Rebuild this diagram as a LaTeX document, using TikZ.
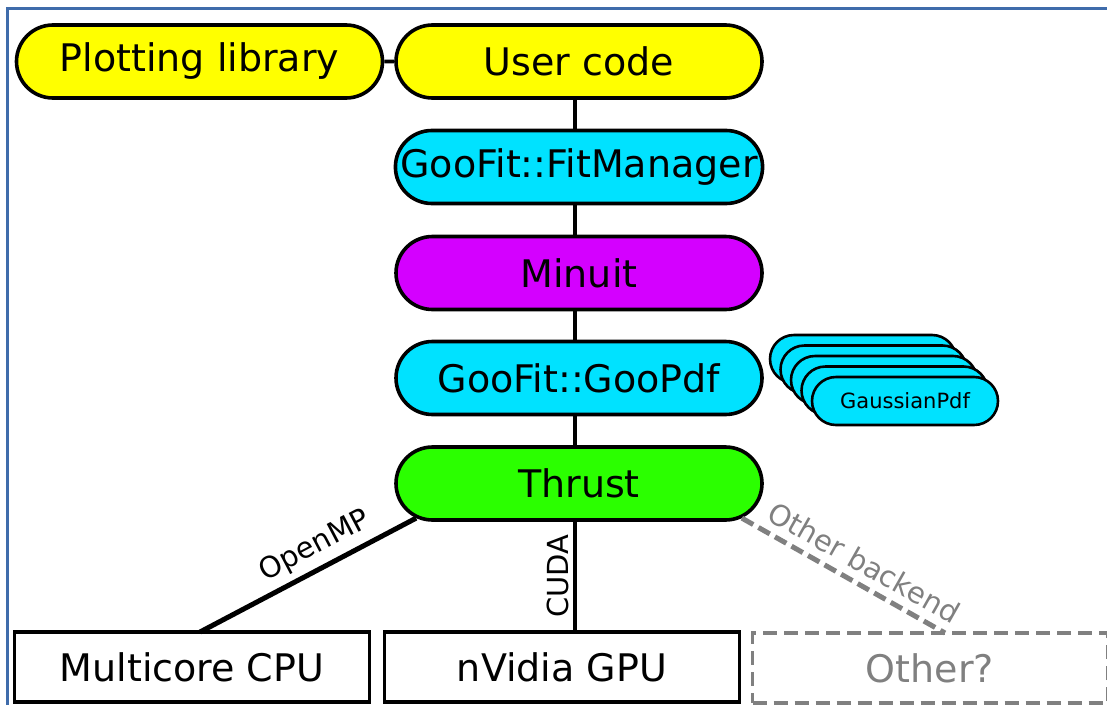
\documentclass[tikz,border=0pt]{standalone}
\usepackage{fontspec}
\setmainfont{DejaVu Sans}
\usetikzlibrary{shapes.misc}
\definecolor{frameblue}{RGB}{63,108,171}
\definecolor{cyanfill}{RGB}{0,226,255}
\definecolor{yellowfill}{RGB}{255,255,0}
\definecolor{magentafill}{RGB}{212,0,255}
\definecolor{greenfill}{RGB}{43,255,0}
\definecolor{greyline}{RGB}{128,128,128}
\begin{document}
\begin{tikzpicture}[x=1pt,y=-1pt,
  pill/.style={rounded rectangle, draw=black, line width=3.6pt, minimum width=366pt, minimum height=73pt, inner sep=0pt, font=\fontsize{38}{44}\selectfont},
  smallpill/.style={rounded rectangle, draw=black, line width=2.6pt, fill=cyanfill, minimum width=186pt, minimum height=48pt, inner sep=0pt, font=\fontsize{21}{25}\selectfont},
  hwbox/.style={rectangle, draw=black, line width=3.6pt, minimum width=355pt, minimum height=70pt, inner sep=0pt, font=\fontsize{38}{44}\selectfont},
  link/.style={draw=black, line width=3.6pt},
  lbl/.style={font=\fontsize{29}{34}\selectfont, inner sep=6pt}
]
\useasboundingbox (0,0) rectangle (1107,704);
\fill[white] (0,0) rectangle (1107,704);
\draw[frameblue, line width=3.2pt] (1120,8.5) -- (7.5,8.5) -- (7.5,720);

% nodes
\node[pill, fill=yellowfill] (plot) at (199.5,61.5) {Plotting library};
\node[pill, fill=yellowfill] (user) at (579,61.5) {User code};
\node[pill, fill=cyanfill] (fit) at (579,167) {GooFit::FitManager};
\node[pill, fill=magentafill] (minuit) at (579,273) {Minuit};
\node[pill, fill=cyanfill] (goopdf) at (579,378) {GooFit::GooPdf};
\node[pill, fill=greenfill] (thrust) at (579,483.5) {Thrust};

\node[smallpill] (g1) at (863,359) {};
\node[smallpill] (g2) at (873.5,369.5) {};
\node[smallpill] (g3) at (884,380) {};
\node[smallpill] (g4) at (894.5,390.5) {};
\node[smallpill] (g5) at (905,401) {GaussianPdf};

\node[hwbox] (cpu) at (192,667) {Multicore CPU};
\node[hwbox] (gpu) at (562,667) {nVidia GPU};
\node[hwbox, draw=greyline, dashed, dash pattern=on 14pt off 7pt, text=greyline] (other) at (930,668) {Other?};

% connectors
\draw[link] (plot) -- (user);
\draw[link] (user.south -| 575,0) -- (fit.north -| 575,0);
\draw[link] (fit.south -| 575,0) -- (minuit.north -| 575,0);
\draw[link] (minuit.south -| 575,0) -- (goopdf.north -| 575,0);
\draw[link] (goopdf.south -| 575,0) -- (thrust.north -| 575,0);

\coordinate (cpuTop) at (200,632);
\coordinate (otherTop) at (945,633);
\draw[draw=black, line width=5pt] (thrust.192) -- node[lbl, sloped, above, pos=0.42] {OpenMP} (cpuTop);
\draw[link] (thrust.south -| 575,0) -- node[lbl, rotate=90, above, inner sep=4pt] {CUDA} (gpu.north -| 575,0);
\draw[draw=greyline, line width=5pt, dash pattern=on 13pt off 6pt] (thrust.348) -- node[lbl, sloped, above, text=greyline, pos=0.55, inner sep=8pt] {Other backend} (otherTop);
\end{tikzpicture}
\end{document}
